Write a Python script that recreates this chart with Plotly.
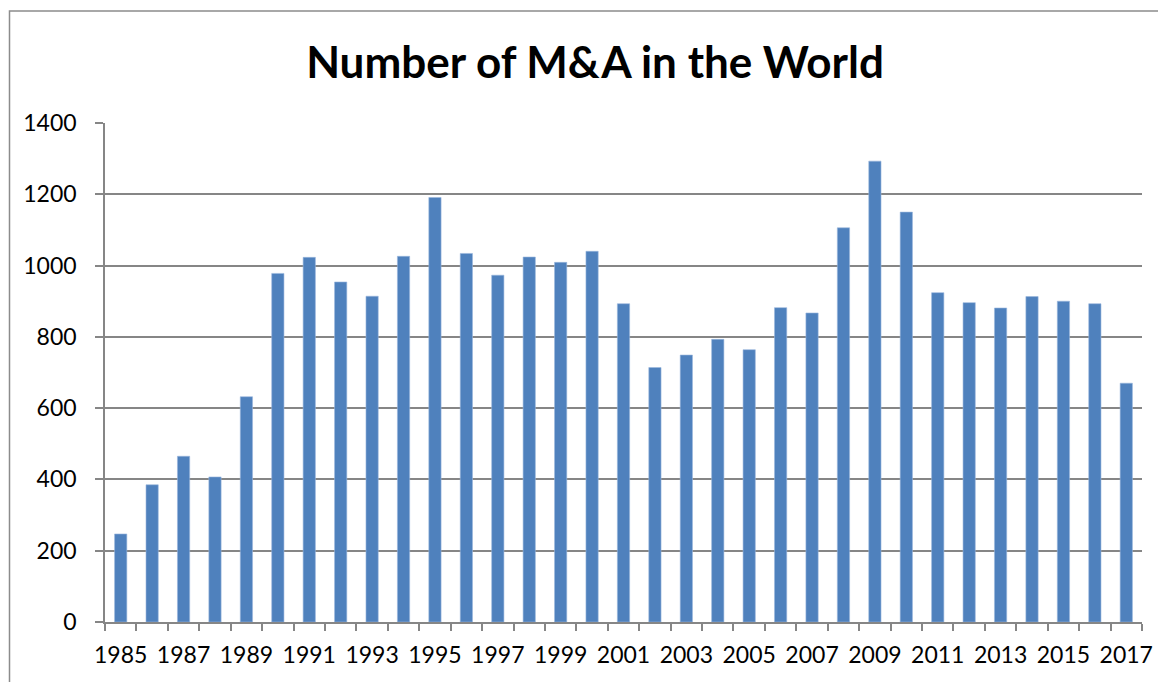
import plotly.graph_objects as go

years = list(range(1985, 2018))
deals = [247, 385, 465, 407, 632, 978, 1023, 954, 914, 1026, 1191, 1034,
         973, 1024, 1009, 1040, 893, 714, 749, 793, 764, 882, 867,
         1106, 1293, 1150, 924, 896, 881, 913, 900, 893, 670]
tick_years = list(range(1985, 2018, 2))
title_text = "Number of M&A in the World"

# page body has an 8px margin; figure coordinates = screen coordinates - 8
OFF = 8
W, H = 1166, 682
L = 105 - OFF
T = 123 - OFF
R = W - (1142 - OFF)
B = H - (622 - OFF)
pw, ph = W - L - R, H - T - B

fig = go.Figure()
fig.add_trace(go.Bar(
    x=years, y=deals, width=0.39,
    marker=dict(color="#4F81BD", line=dict(color="#9BB7DD", width=0.6)),
    showlegend=False,
))

axis_gray = "#868686"
fig.update_layout(
    width=W, height=H,
    margin=dict(l=L, r=R, t=T, b=B, autoexpand=False),
    paper_bgcolor="white", plot_bgcolor="white",
    font=dict(family="Lato, Carlito, Calibri, sans-serif", color="black"),
    title=dict(text=f"<b>{title_text}</b>", x=(595 - OFF) / W, xanchor="center",
               y=1 - (63 - OFF) / H, yanchor="middle", yref="container", xref="container",
               font=dict(size=44, color="black")),
    xaxis=dict(
        range=[1984.5, 2017.5], tickmode="array", tickvals=tick_years,
        ticktext=[str(y) for y in tick_years], ticks="", showgrid=False,
        showline=True, linecolor=axis_gray, linewidth=1.5,
        tickfont=dict(size=23), zeroline=False, ticklabelstandoff=12,
        minor=dict(tick0=1984.5, dtick=1, ticks="outside", ticklen=7,
                   tickcolor=axis_gray, tickwidth=1.5, showgrid=False),
    ),
    yaxis=dict(
        range=[0, 1400], dtick=200, ticks="outside", ticklen=8,
        tickcolor=axis_gray, tickwidth=1.5, showline=True, linecolor=axis_gray,
        linewidth=1.5, showgrid=True, gridcolor=axis_gray, gridwidth=1.5,
        tickfont=dict(size=23), zeroline=False, ticklabelstandoff=14,
    ),
)

# outer chart-area border (left and top edges visible)
x0 = (9.5 - 105) / pw
y1 = (622 - 11) / ph
fig.add_shape(type="rect", xref="paper", yref="paper", x0=x0, x1=1.3, y0=-0.4, y1=y1,
              line=dict(color="#8C8C8C", width=1.5), layer="below")

fig.write_html("out.html")
